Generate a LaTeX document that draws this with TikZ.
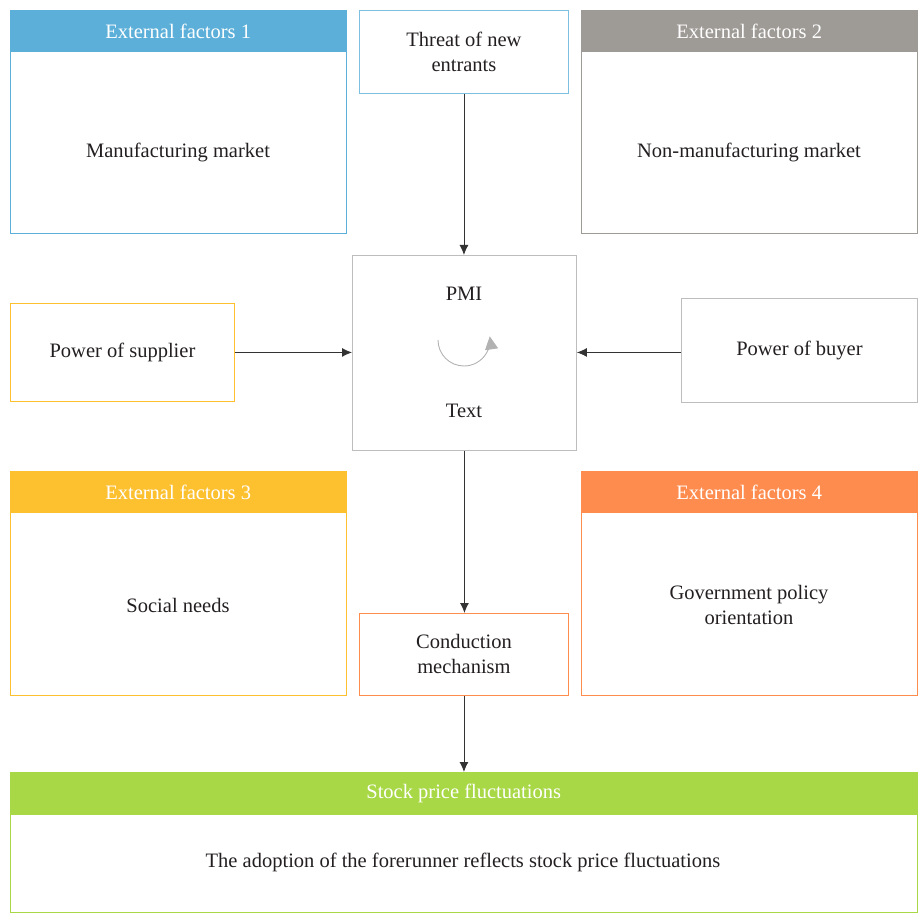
\documentclass[tikz,border=0pt]{standalone}
\usepackage{fontspec}
\setmainfont{Liberation Serif}
\usetikzlibrary{arrows.meta,positioning}
\definecolor{efblue}{HTML}{5BAFD9}
\definecolor{efgray}{HTML}{9E9A96}
\definecolor{efyellow}{HTML}{FDC02F}
\definecolor{eforange}{HTML}{FF8C4F}
\definecolor{efgreen}{HTML}{A8D845}
\definecolor{txtdark}{HTML}{231F20}
\definecolor{boxgray}{HTML}{BDBDBD}
\begin{document}
\begin{tikzpicture}[x=1pt,y=-1pt,font=\fontsize{20.5}{25}\selectfont,text=txtdark]
    \tikzstyle{frame}=[draw=#1,line width=0.9pt,anchor=north west,inner sep=0pt,align=center]
    \tikzstyle{head}=[fill=#1,text=white,anchor=north west,inner sep=0pt,minimum height=42pt]
    \tikzstyle{arr}=[draw=black!80,line width=0.9pt,-{Latex[length=10pt,width=9pt]}]
    \useasboundingbox (0,0) rectangle (920,917);
    % external factors
    \node[frame=efblue,minimum width=336pt,minimum height=223pt] (ef1) at (10,10) {};
    \node[head=efblue,minimum width=336pt] (ef1h) at (10,10) {External factors 1};
    \node (ef1t) at (178,152) {Manufacturing market};
    \node[frame=efgray,minimum width=336pt,minimum height=223pt] (ef2) at (581,10) {};
    \node[head=efgray,minimum width=336pt] (ef2h) at (581,10) {External factors 2};
    \node (ef2t) at (749,152) {Non-manufacturing market};
    \node[frame=efyellow,minimum width=336pt,minimum height=224pt] (ef3) at (10,471) {};
    \node[head=efyellow,minimum width=336pt] (ef3h) at (10,471) {External factors 3};
    \node (ef3t) at (178,605) {Social needs};
    \node[frame=eforange,minimum width=336pt,minimum height=224pt] (ef4) at (581,471) {};
    \node[head=eforange,minimum width=336pt] (ef4h) at (581,471) {External factors 4};
    \node[align=center] (ef4t) at (749,605) {Government policy\\orientation};
    % forces
    \node[frame=efblue!80,minimum width=209pt,minimum height=83pt] (threat) at (359,10) {Threat of new\\entrants};
    \node[frame=boxgray,minimum width=224pt,minimum height=195pt] (pmi) at (352,255) {};
    \node (pmit) at (464,294) {PMI};
    \node (pmib) at (464,411) {Text};
    \draw[gray!60,line width=0.9pt,-{Triangle[length=13pt,width=13pt]}] (438,340) arc[start angle=180,end angle=368,radius=26pt];
    \node[frame=efyellow,minimum width=224pt,minimum height=98pt] (supplier) at (10,303) {Power of supplier};
    \node[frame=boxgray,minimum width=236pt,minimum height=104pt] (buyer) at (681,298) {Power of buyer};
    \node[frame=eforange,minimum width=209pt,minimum height=82pt] (cond) at (359,613) {Conduction\\mechanism};
    % result
    \node[frame=efgreen,minimum width=907pt,minimum height=140pt] (stock) at (10,772) {};
    \node[head=efgreen,minimum width=907pt,minimum height=43pt] (stockh) at (10,772) {Stock price fluctuations};
    \node (stockt) at (463,862) {The adoption of the forerunner reflects stock price fluctuations};
    % arrows
    \draw[arr] (threat.south) -- (threat.south |- pmi.north);
    \draw[arr] (supplier.east) -- (supplier.east -| pmi.west);
    \draw[arr] (buyer.west |- supplier.east) -- (supplier.east -| pmi.east);
    \draw[arr] (pmi.south) -- (pmi.south |- cond.north);
    \draw[arr] (cond.south) -- (cond.south |- stock.north);
  \end{tikzpicture}
\end{document}
